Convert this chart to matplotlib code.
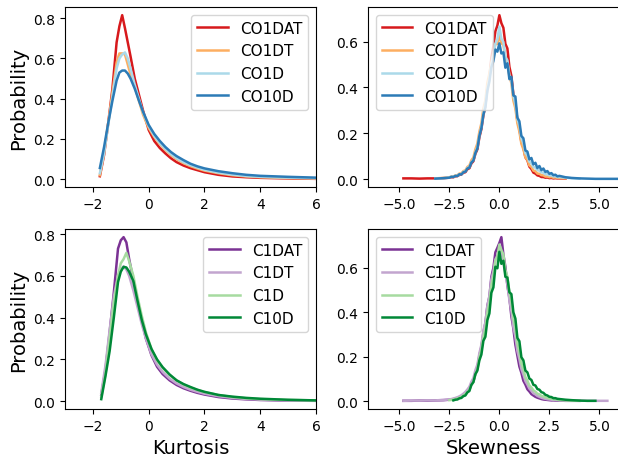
import numpy as np
import matplotlib
matplotlib.use('Agg')
import matplotlib.pyplot as plt

plt.rcParams.update({'font.size': 10})

nan = np.nan

# ---- kurtosis histograms (bin centres) ----
kurt_x_co = [-1.75, -1.6, -1.45, -1.3, -1.15, -1.05, -0.95, -0.85, -0.75, -0.65,
             -0.5, -0.35, -0.2, 0.0, 0.2, 0.4, 0.6, 0.8, 1.0, 1.25,
             1.5, 1.75, 2.0, 2.5, 3.0, 3.5, 4.0, 5.0, 6.0, 6.5]
co1dat_kurt = [0.015, 0.12, 0.28, 0.45, 0.68, 0.76, 0.815, 0.75, 0.68, 0.61,
               0.50, 0.42, 0.34, 0.245, 0.19, 0.155, 0.128, 0.104, 0.085, 0.068,
               0.055, 0.045, 0.035, 0.022, 0.014, 0.010, 0.007, 0.004, 0.002, 0.002]
co1dt_kurt = [0.02, 0.13, 0.28, 0.43, 0.58, 0.625, 0.625, 0.62, 0.57, 0.52,
              0.46, 0.39, 0.32, 0.255, 0.21, 0.175, 0.145, 0.12, 0.10, 0.08,
              0.065, 0.053, 0.043, 0.030, 0.020, 0.014, 0.010, 0.006, 0.004, 0.003]
co1d_kurt = [0.03, 0.13, 0.27, 0.41, 0.55, 0.60, 0.62, 0.63, 0.60, 0.55,
             0.47, 0.40, 0.33, 0.265, 0.215, 0.18, 0.15, 0.125, 0.105, 0.085,
             0.07, 0.058, 0.047, 0.033, 0.023, 0.016, 0.012, 0.008, 0.005, 0.004]
co10d_kurt = [0.056, 0.16, 0.28, 0.39, 0.49, 0.53, 0.54, 0.54, 0.525, 0.50,
              0.45, 0.39, 0.335, 0.27, 0.225, 0.19, 0.16, 0.135, 0.115, 0.095,
              0.077, 0.064, 0.054, 0.040, 0.030, 0.022, 0.017, 0.012, 0.008, 0.007]

kurt_x_c = [-1.7, -1.55, -1.4, -1.25, -1.1, -1.0, -0.9, -0.8, -0.7, -0.55,
            -0.4, -0.25, -0.1, 0.1, 0.3, 0.5, 0.75, 1.0, 1.25, 1.5,
            1.75, 2.0, 2.5, 3.0, 3.5, 4.0, 5.0, 6.0, 6.5]
c1dat_kurt = [0.03, 0.15, 0.33, 0.52, 0.73, 0.77, 0.785, 0.76, 0.68, 0.58,
              0.48, 0.39, 0.30, 0.22, 0.165, 0.13, 0.10, 0.078, 0.062, 0.05,
              0.04, 0.032, 0.02, 0.013, 0.009, 0.006, 0.003, 0.002, 0.002]
c1dt_kurt = [0.04, 0.17, 0.34, 0.50, 0.60, 0.63, 0.645, 0.63, 0.60, 0.53,
             0.45, 0.37, 0.30, 0.225, 0.175, 0.14, 0.108, 0.085, 0.068, 0.055,
             0.045, 0.036, 0.024, 0.016, 0.011, 0.008, 0.004, 0.003, 0.002]
c1d_kurt = [0.02, 0.13, 0.30, 0.47, 0.60, 0.66, 0.68, 0.71, 0.67, 0.60,
            0.50, 0.41, 0.33, 0.25, 0.195, 0.16, 0.125, 0.10, 0.08, 0.065,
            0.054, 0.044, 0.03, 0.02, 0.014, 0.010, 0.006, 0.004, 0.003]
c10d_kurt = [0.01, 0.12, 0.24, 0.40, 0.57, 0.62, 0.643, 0.64, 0.62, 0.575,
             0.48, 0.39, 0.32, 0.25, 0.20, 0.163, 0.128, 0.10, 0.082, 0.068,
             0.055, 0.045, 0.03, 0.022, 0.016, 0.012, 0.007, 0.004, 0.003]

# ---- skewness histograms: sparse tails, 0.1-wide bins in the middle ----
skew_x = ([-4.8, -4.4, -4.0, -3.6, -3.2, -2.8]
          + list(np.round(np.arange(-2.5, 3.05, 0.1), 2))
          + [3.3, 3.6, 4.0, 4.4, 4.8, 5.2, 5.4, 6.0])

co1dat_skew = ([0.003, 0.003, 0.002, 0.003, 0.003, 0.004]
               + [0.006, 0.008, 0.008, 0.012, 0.013, 0.018, 0.020, 0.028, 0.030, 0.043,
                  0.047, 0.068, 0.078, 0.110, 0.130, 0.182, 0.218, 0.278, 0.322, 0.398,
                  0.442, 0.528, 0.580, 0.645, 0.670, 0.715, 0.680, 0.660, 0.590, 0.570,
                  0.490, 0.450, 0.370, 0.330, 0.255, 0.220, 0.162, 0.138, 0.095, 0.082,
                  0.054, 0.044, 0.028, 0.024, 0.016, 0.014, 0.009, 0.009, 0.006, 0.007,
                  0.004, 0.005, 0.003, 0.004, 0.003, 0.003]
               + [0.002, nan, nan, nan, nan, nan, nan, nan])
co1dt_skew = ([nan, nan, nan, nan, 0.003, 0.005]
              + [0.008, 0.011, 0.011, 0.016, 0.017, 0.024, 0.025, 0.035, 0.038, 0.053,
                 0.059, 0.082, 0.094, 0.130, 0.155, 0.207, 0.243, 0.308, 0.342, 0.420,
                 0.460, 0.510, 0.550, 0.590, 0.590, 0.628, 0.592, 0.586, 0.532, 0.508,
                 0.452, 0.418, 0.342, 0.308, 0.243, 0.207, 0.154, 0.130, 0.095, 0.084,
                 0.059, 0.053, 0.037, 0.034, 0.024, 0.023, 0.017, 0.016, 0.011, 0.011,
                 0.008, 0.009, 0.006, 0.007, 0.005, 0.005]
              + [0.003, nan, nan, nan, nan, nan, nan, nan])
co1d_skew = ([nan, nan, nan, nan, 0.002, 0.004]
             + [0.007, 0.010, 0.010, 0.014, 0.015, 0.021, 0.022, 0.032, 0.034, 0.048,
                0.053, 0.074, 0.084, 0.117, 0.140, 0.192, 0.228, 0.288, 0.328, 0.395,
                0.440, 0.500, 0.540, 0.590, 0.610, 0.665, 0.612, 0.598, 0.532, 0.518,
                0.452, 0.428, 0.362, 0.328, 0.263, 0.232, 0.178, 0.156, 0.114, 0.103,
                0.076, 0.069, 0.053, 0.050, 0.039, 0.037, 0.029, 0.028, 0.021, 0.021,
                0.016, 0.016, 0.012, 0.012, 0.009, 0.009]
             + [0.006, 0.004, 0.002, nan, nan, nan, nan, nan])
co10d_skew = ([nan, nan, nan, nan, 0.002, 0.004]
              + [0.006, 0.010, 0.009, 0.014, 0.013, 0.021, 0.020, 0.030, 0.032, 0.046,
                 0.050, 0.072, 0.081, 0.114, 0.133, 0.188, 0.222, 0.281, 0.312, 0.385,
                 0.425, 0.488, 0.515, 0.565, 0.556, 0.592, 0.548, 0.553, 0.486, 0.505,
                 0.436, 0.446, 0.365, 0.360, 0.268, 0.252, 0.188, 0.178, 0.125, 0.120,
                 0.086, 0.092, 0.064, 0.071, 0.048, 0.057, 0.039, 0.046, 0.031, 0.035,
                 0.023, 0.026, 0.017, 0.019, 0.012, 0.014]
              + [0.008, 0.005, 0.003, 0.002, 0.001, 0.001, 0.001, 0.001])

c1dat_skew = ([0.002, 0.002, 0.003, 0.003, 0.004, 0.005]
              + [0.007, 0.008, 0.010, 0.012, 0.015, 0.019, 0.023, 0.029, 0.036, 0.045,
                 0.055, 0.075, 0.090, 0.124, 0.150, 0.206, 0.244, 0.308, 0.352, 0.430,
                 0.470, 0.560, 0.600, 0.670, 0.690, 0.712, 0.738, 0.660, 0.605, 0.520,
                 0.465, 0.382, 0.326, 0.254, 0.205, 0.156, 0.128, 0.092, 0.075, 0.054,
                 0.044, 0.032, 0.026, 0.020, 0.016, 0.013, 0.010, 0.008, 0.007, 0.006,
                 0.005, 0.004, 0.004, 0.003, 0.003, 0.003]
              + [0.002, 0.002, 0.002, nan, nan, nan, nan, nan])
c1dt_skew = ([0.002, 0.003, 0.003, 0.004, 0.004, 0.006]
             + [0.008, 0.010, 0.012, 0.015, 0.018, 0.022, 0.027, 0.034, 0.042, 0.053,
                0.065, 0.088, 0.104, 0.140, 0.165, 0.216, 0.254, 0.318, 0.354, 0.428,
                0.474, 0.548, 0.584, 0.638, 0.654, 0.684, 0.664, 0.636, 0.574, 0.526,
                0.455, 0.406, 0.334, 0.290, 0.226, 0.190, 0.145, 0.120, 0.091, 0.075,
                0.057, 0.047, 0.036, 0.031, 0.024, 0.020, 0.016, 0.013, 0.011, 0.009,
                0.008, 0.007, 0.006, 0.005, 0.005, 0.004]
             + [0.004, 0.003, 0.003, 0.002, 0.002, 0.002, 0.002, nan])
c1d_skew = ([nan, nan, nan, nan, nan, nan]
            + [0.005, 0.006, 0.008, 0.010, 0.013, 0.016, 0.020, 0.026, 0.033, 0.042,
               0.052, 0.073, 0.087, 0.120, 0.145, 0.196, 0.230, 0.288, 0.325, 0.398,
               0.444, 0.520, 0.562, 0.632, 0.652, 0.705, 0.680, 0.660, 0.590, 0.560,
               0.490, 0.450, 0.372, 0.330, 0.258, 0.222, 0.170, 0.145, 0.108, 0.093,
               0.071, 0.062, 0.049, 0.043, 0.034, 0.031, 0.024, 0.022, 0.017, 0.016,
               0.012, 0.012, 0.009, 0.009, 0.007, 0.006]
            + [0.004, 0.003, 0.002, nan, nan, nan, nan, nan])
c10d_skew = ([nan, nan, nan, nan, nan, nan]
             + [nan, nan, 0.004, 0.007, 0.008, 0.013, 0.015, 0.023, 0.026, 0.040,
                0.046, 0.074, 0.086, 0.122, 0.138, 0.184, 0.210, 0.272, 0.290, 0.365,
                0.395, 0.488, 0.512, 0.605, 0.598, 0.672, 0.618, 0.632, 0.560, 0.556,
                0.490, 0.482, 0.400, 0.372, 0.285, 0.270, 0.198, 0.184, 0.138, 0.130,
                0.102, 0.096, 0.074, 0.071, 0.055, 0.052, 0.041, 0.038, 0.029, 0.026,
                0.020, 0.019, 0.014, 0.014, 0.011, 0.010]
             + [0.007, 0.005, 0.003, 0.002, 0.002, nan, nan, nan])

co_labels = ['CO1DAT', 'CO1DT', 'CO1D', 'CO10D']
c_labels = ['C1DAT', 'C1DT', 'C1D', 'C10D']
co_colors = ['#d7191c', '#fdae61', '#abd9e9', '#2c7bb6']
c_colors = ['#7b3294', '#c2a5cf', '#a6dba0', '#008837']

fig, axes = plt.subplots(2, 2, figsize=(6.18, 4.6), dpi=100)
fig.subplots_adjust(left=0.1052, right=1.0016, bottom=0.1087, top=0.9826,
                    wspace=0.207, hspace=0.233)

panels = [
    (axes[0, 0], kurt_x_co, [co1dat_kurt, co1dt_kurt, co1d_kurt, co10d_kurt], co_labels, co_colors),
    (axes[0, 1], skew_x, [co1dat_skew, co1dt_skew, co1d_skew, co10d_skew], co_labels, co_colors),
    (axes[1, 0], kurt_x_c, [c1dat_kurt, c1dt_kurt, c1d_kurt, c10d_kurt], c_labels, c_colors),
    (axes[1, 1], skew_x, [c1dat_skew, c1dt_skew, c1d_skew, c10d_skew], c_labels, c_colors),
]

for ax, x, series, labels, colors in panels:
    for y, lab, col in zip(series, labels, colors):
        ax.plot(x, y, color=col, lw=1.8, label=lab)

for ax in axes[:, 0]:
    ax.set_xlim(-3, 6)
    ax.set_ylabel('Probability', fontsize=14)
    ax.legend(loc='upper right', fontsize=11)
for ax in axes[:, 1]:
    ax.set_xlim(-6.57, 5.98)
    ax.legend(loc='upper left', fontsize=11)

axes[1, 0].set_xlabel('Kurtosis', fontsize=14)
axes[1, 1].set_xlabel('Skewness', fontsize=14)

plt.savefig('out.png', dpi=100)
